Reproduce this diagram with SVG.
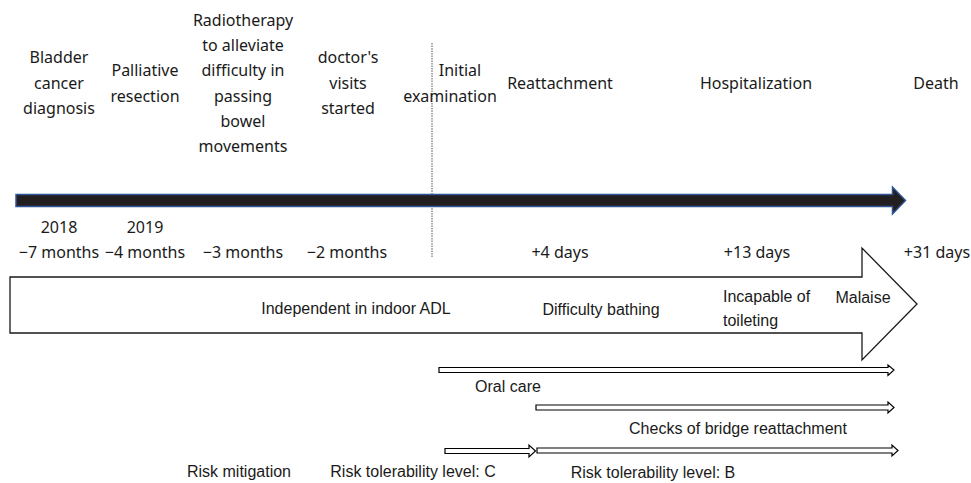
<svg xmlns="http://www.w3.org/2000/svg" width="971" height="483" viewBox="0 0 971 483">
<style>
.t{font-family:"Noto Sans","Open Sans",sans-serif;font-size:16px;fill:#1a1a1a;text-anchor:middle}
.c{font-family:"Liberation Sans",Arial,sans-serif;font-size:16px;fill:#1a1a1a}
.m{text-anchor:middle}
.blk{fill:#fff;stroke:#000;stroke-width:1.2}
</style>
<rect width="971" height="483" fill="#fff"/>
<g id="connectors">
<line id="now-line" x1="432" y1="43" x2="432" y2="258" stroke="#555" stroke-width="1" stroke-dasharray="1.5,1"/>
<path id="timeline" d="M16,194.5 H892.5 V187 L905.5,200.5 L892.5,214 V206.5 H16 Z" fill="#231f20" stroke="#2f5597" stroke-width="1.5"/>
<path id="adl-arrow" d="M10,277 H862 V248 L917,304 L862,360 V333 H10 Z" fill="#fff" stroke="#1a1a1a" stroke-width="1.3"/>
<path id="oral-arrow" class="blk" d="M439,367.5 H888 V365 L894,370 L888,375.5 V372.5 H439 Z"/>
<path id="checks-arrow" class="blk" d="M536,405 H888 V402 L894,407.5 L888,413 V410 H536 Z"/>
<path id="riskC-arrow" class="blk" d="M445,448.5 H529 V445 L535.5,451 L529,457 V453.5 H445 Z"/>
<path id="riskB-arrow" class="blk" d="M537,448 H892 V445 L898,450.5 L892,456 V453 H537 Z"/>
</g>
<g id="n-bladder"><text class="t" x="59" y="63">Bladder</text><text class="t" x="59" y="88.5">cancer</text><text class="t" x="59" y="114">diagnosis</text><text class="t" x="59" y="233">2018</text><text class="t" x="59" y="258">−7 months</text></g>
<g id="n-palliative"><text class="t" x="145" y="76">Palliative</text><text class="t" x="145" y="101.5">resection</text><text class="t" x="145" y="233">2019</text><text class="t" x="145" y="258">−4 months</text></g>
<g id="n-radio"><text class="t" x="243" y="26">Radiotherapy</text><text class="t" x="243" y="51">to alleviate</text><text class="t" x="243" y="76">difficulty in</text><text class="t" x="243" y="101.5">passing</text><text class="t" x="243" y="127">bowel</text><text class="t" x="243" y="152">movements</text><text class="t" x="243" y="258">−3 months</text></g>
<g id="n-doctor"><text class="t" x="348" y="63">doctor's</text><text class="t" x="348" y="88.5">visits</text><text class="t" x="348" y="114">started</text><text class="t" x="347" y="258">−2 months</text></g>
<g id="n-initial"><text class="t" x="460" y="76">Initial</text><text class="t" x="450" y="101.5">examination</text></g>
<g id="n-reattach"><text class="t" x="560" y="89">Reattachment</text><text class="t" x="560" y="258">+4 days</text></g>
<g id="n-hosp"><text class="t" x="756" y="89">Hospitalization</text><text class="t" x="757" y="258">+13 days</text></g>
<g id="n-death"><text class="t" x="936" y="89">Death</text><text class="t" x="937" y="258">+31 days</text></g>
<g id="n-states">
<text class="c m" x="356" y="314">Independent in indoor ADL</text>
<text class="c m" x="601" y="315">Difficulty bathing</text>
<text class="c" x="723" y="302">Incapable of</text>
<text class="c" x="723" y="326">toileting</text>
<text class="c m" x="863" y="303">Malaise</text>
</g>
<g id="n-care">
<text class="c m" x="508" y="392">Oral care</text>
<text class="c m" x="738" y="434">Checks of bridge reattachment</text>
</g>
<g id="n-risk">
<text class="c m" x="239" y="477">Risk mitigation</text>
<text class="c m" x="413" y="477">Risk tolerability level: C</text>
<text class="c m" x="653" y="478">Risk tolerability level: B</text>
</g>
</svg>
